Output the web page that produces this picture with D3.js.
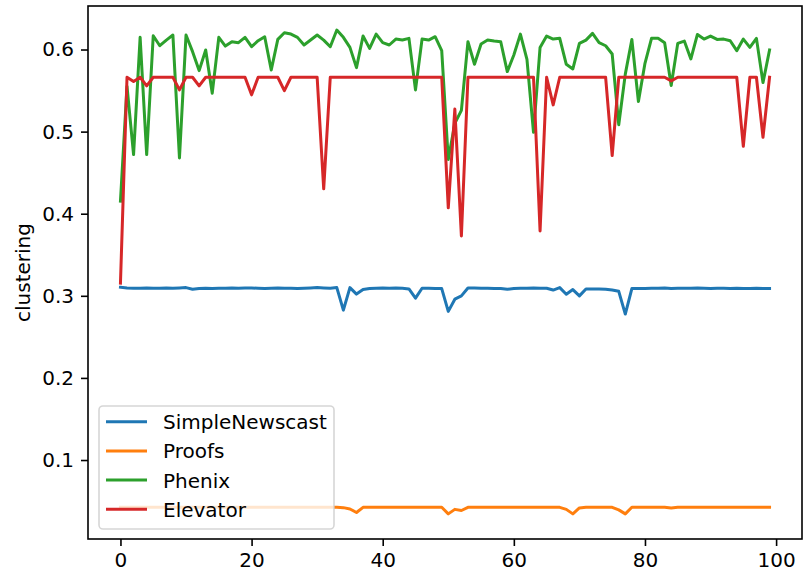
<!DOCTYPE html>
<html>
<head>
<meta charset="utf-8">
<script src="https://cdn.jsdelivr.net/npm/d3@7"></script>
<style>
  html, body { margin: 0; padding: 0; background: #ffffff; }
  svg { display: block; font-family: "DejaVu Sans", sans-serif; }
</style>
</head>
<body>
<svg id="chart" width="803" height="575"></svg>
<script>
// Clustering coefficient per run (runs 0..99) for each protocol
const runs = d3.range(100);

const simpleNewscast = [
  0.3104, 0.3096, 0.3092, 0.3092, 0.3096, 0.3092, 0.3092, 0.3096, 0.3092, 0.3096,
  0.3100, 0.3080, 0.3088, 0.3092, 0.3088, 0.3092, 0.3092, 0.3096, 0.3092, 0.3096,
  0.3096, 0.3092, 0.3088, 0.3092, 0.3096, 0.3092, 0.3092, 0.3088, 0.3092, 0.3096,
  0.3100, 0.3096, 0.3092, 0.3100, 0.2826, 0.3100, 0.3021, 0.3076, 0.3088, 0.3092,
  0.3096, 0.3092, 0.3096, 0.3092, 0.3084, 0.2971, 0.3092, 0.3092, 0.3088, 0.3088,
  0.2810, 0.2959, 0.2999, 0.3096, 0.3096, 0.3092, 0.3092, 0.3088, 0.3088, 0.3080,
  0.3088, 0.3092, 0.3092, 0.3096, 0.3092, 0.3092, 0.3070, 0.3100, 0.3019, 0.3076,
  0.2999, 0.3084, 0.3084, 0.3084, 0.3080, 0.3070, 0.3055, 0.2778, 0.3088, 0.3088,
  0.3088, 0.3092, 0.3092, 0.3096, 0.3088, 0.3092, 0.3092, 0.3092, 0.3096, 0.3092,
  0.3088, 0.3092, 0.3092, 0.3088, 0.3092, 0.3088, 0.3088, 0.3092, 0.3088, 0.3088
];

const proofs = [
  0.0424, 0.0424, 0.0424, 0.0424, 0.0424, 0.0424, 0.0424, 0.0424, 0.0424, 0.0424,
  0.0424, 0.0424, 0.0424, 0.0424, 0.0424, 0.0424, 0.0424, 0.0424, 0.0424, 0.0424,
  0.0424, 0.0424, 0.0424, 0.0424, 0.0424, 0.0424, 0.0424, 0.0424, 0.0424, 0.0424,
  0.0424, 0.0424, 0.0424, 0.0424, 0.0420, 0.0404, 0.0361, 0.0424, 0.0424, 0.0424,
  0.0424, 0.0424, 0.0424, 0.0424, 0.0424, 0.0424, 0.0424, 0.0424, 0.0424, 0.0424,
  0.0344, 0.0399, 0.0385, 0.0424, 0.0424, 0.0424, 0.0424, 0.0424, 0.0424, 0.0424,
  0.0424, 0.0424, 0.0424, 0.0424, 0.0424, 0.0424, 0.0424, 0.0424, 0.0399, 0.0344,
  0.0417, 0.0424, 0.0424, 0.0424, 0.0424, 0.0424, 0.0393, 0.0344, 0.0424, 0.0424,
  0.0424, 0.0424, 0.0424, 0.0424, 0.0417, 0.0424, 0.0424, 0.0424, 0.0424, 0.0424,
  0.0424, 0.0424, 0.0424, 0.0424, 0.0424, 0.0424, 0.0424, 0.0424, 0.0424, 0.0424
];

const phenix = [
  0.4153, 0.5550, 0.4720, 0.6148, 0.4720, 0.6168, 0.6046, 0.6115, 0.6176, 0.4680,
  0.6176, 0.5974, 0.5743, 0.5994, 0.5468, 0.6148, 0.6042, 0.6095, 0.6083, 0.6148,
  0.6034, 0.6107, 0.6156, 0.5751, 0.6123, 0.6204, 0.6188, 0.6148, 0.6055, 0.6115,
  0.6176, 0.6115, 0.6034, 0.6237, 0.6148, 0.6026, 0.5779, 0.6164, 0.6014, 0.6188,
  0.6083, 0.6055, 0.6127, 0.6115, 0.6136, 0.5508, 0.6127, 0.6115, 0.6156, 0.5986,
  0.4660, 0.5100, 0.5258, 0.6095, 0.5820, 0.6067, 0.6115, 0.6103, 0.6095, 0.5731,
  0.5933, 0.6188, 0.5881, 0.4991, 0.6026, 0.6164, 0.6127, 0.6136, 0.5820, 0.5763,
  0.6075, 0.6115, 0.6196, 0.6083, 0.6046, 0.5945, 0.5084, 0.5700, 0.6123, 0.5367,
  0.5832, 0.6136, 0.6136, 0.6083, 0.5561, 0.6075, 0.6103, 0.5885, 0.6184, 0.6127,
  0.6164, 0.6123, 0.6127, 0.6107, 0.5986, 0.6127, 0.6026, 0.6136, 0.5597, 0.5994
];

const elevator = [
  0.3154, 0.5662, 0.5610, 0.5662, 0.5557, 0.5662, 0.5662, 0.5662, 0.5662, 0.5508,
  0.5662, 0.5662, 0.5557, 0.5662, 0.5662, 0.5662, 0.5662, 0.5662, 0.5662, 0.5662,
  0.5448, 0.5662, 0.5662, 0.5662, 0.5662, 0.5500, 0.5662, 0.5662, 0.5662, 0.5662,
  0.5662, 0.4303, 0.5662, 0.5662, 0.5662, 0.5662, 0.5662, 0.5662, 0.5662, 0.5662,
  0.5662, 0.5662, 0.5662, 0.5662, 0.5662, 0.5662, 0.5662, 0.5662, 0.5662, 0.5662,
  0.4072, 0.5274, 0.3729, 0.5662, 0.5662, 0.5662, 0.5662, 0.5662, 0.5662, 0.5662,
  0.5662, 0.5662, 0.5662, 0.5662, 0.3789, 0.5662, 0.5326, 0.5662, 0.5662, 0.5662,
  0.5662, 0.5662, 0.5662, 0.5662, 0.5662, 0.4708, 0.5662, 0.5662, 0.5662, 0.5662,
  0.5662, 0.5662, 0.5662, 0.5662, 0.5618, 0.5662, 0.5662, 0.5662, 0.5662, 0.5662,
  0.5662, 0.5662, 0.5662, 0.5662, 0.5662, 0.4821, 0.5662, 0.5662, 0.4930, 0.5662
];

const seriesNames = ["SimpleNewscast", "Proofs", "Phenix", "Elevator"];
const seriesColors = ["#1f77b4", "#ff7f0e", "#2ca02c", "#d62728"];
const seriesValues = [simpleNewscast, proofs, phenix, elevator];

const xTicks = [0, 20, 40, 60, 80, 100];
const yTicks = [0.1, 0.2, 0.3, 0.4, 0.5, 0.6];
const yLabel = "clustering";

// ---- layout ----
const svg = d3.select("#chart");
const plot = { left: 88, right: 802, top: 6, bottom: 539 };
const fontSize = 20;

// x limits padded by 5% of the run range on each side
const xPad = (d3.max(runs) - d3.min(runs)) * 0.05;
const x = d3.scaleLinear()
  .domain([d3.min(runs) - xPad, d3.max(runs) + xPad])
  .range([plot.left, plot.right]);

const y = d3.scaleLinear()
  .domain([0.0038, 0.653])
  .range([plot.bottom, plot.top]);

// ---- lines ----
const line = d3.line()
  .x((d, i) => x(runs[i]))
  .y(d => y(d));

const lines = svg.append("g");
seriesValues.forEach((vals, k) => {
  lines.append("path")
    .datum(vals)
    .attr("d", line)
    .attr("fill", "none")
    .attr("stroke", seriesColors[k])
    .attr("stroke-width", 3)
    .attr("stroke-linejoin", "round")
    .attr("stroke-linecap", "square");
});

// ---- axes ----
const xAxis = d3.axisBottom(x).tickValues(xTicks).tickSize(7).tickPadding(7)
  .tickFormat(d3.format("d"));
const yAxis = d3.axisLeft(y).tickValues(yTicks).tickSize(7).tickPadding(7)
  .tickFormat(d3.format(".1f"));

const gx = svg.append("g").attr("transform", `translate(0,${plot.bottom})`).call(xAxis);
const gy = svg.append("g").attr("transform", `translate(${plot.left},0)`).call(yAxis);

[gx, gy].forEach(g => {
  g.select(".domain").remove();
  g.selectAll(".tick line").attr("stroke", "#000").attr("stroke-width", 1.6);
  g.selectAll(".tick text")
    .attr("fill", "#000")
    .style("font-size", fontSize + "px")
    .style("font-family", "'DejaVu Sans', sans-serif");
});

// frame
svg.append("rect")
  .attr("x", plot.left)
  .attr("y", plot.top)
  .attr("width", plot.right - plot.left)
  .attr("height", plot.bottom - plot.top)
  .attr("fill", "none")
  .attr("stroke", "#000")
  .attr("stroke-width", 1.6);

// y axis title
svg.append("text")
  .attr("transform", `translate(30,${(plot.top + plot.bottom) / 2}) rotate(-90)`)
  .attr("text-anchor", "middle")
  .style("font-size", fontSize + "px")
  .attr("fill", "#000")
  .text(yLabel);

// ---- legend ----
const legend = { x: 99, y: 406, w: 235, h: 123, rowGap: 29.2, firstRow: 15.7 };
const lg = svg.append("g");
lg.append("rect")
  .attr("x", legend.x)
  .attr("y", legend.y)
  .attr("width", legend.w)
  .attr("height", legend.h)
  .attr("rx", 4)
  .attr("fill", "#ffffff")
  .attr("fill-opacity", 0.8)
  .attr("stroke", "#cccccc")
  .attr("stroke-opacity", 0.8)
  .attr("stroke-width", 1.6);

seriesNames.forEach((name, k) => {
  const cy = legend.y + legend.firstRow + k * legend.rowGap;
  lg.append("line")
    .attr("x1", legend.x + 7)
    .attr("x2", legend.x + 48)
    .attr("y1", cy)
    .attr("y2", cy)
    .attr("stroke", seriesColors[k])
    .attr("stroke-width", 3);
  lg.append("text")
    .attr("x", legend.x + 64)
    .attr("y", cy + 7.4)
    .style("font-size", fontSize + "px")
    .attr("fill", "#000")
    .text(name);
});
</script>
</body>
</html>
